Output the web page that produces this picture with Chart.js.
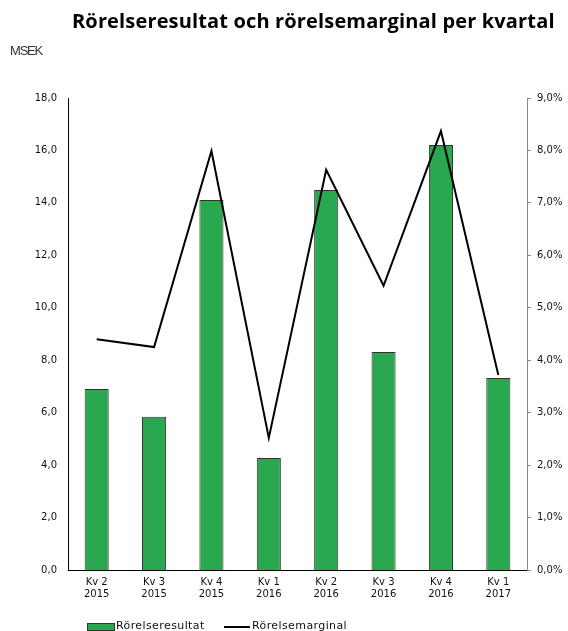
<!DOCTYPE html>
<html lang="sv">
<head>
<meta charset="UTF-8">
<title>Rörelseresultat och rörelsemarginal per kvartal</title>
<script src="https://cdn.jsdelivr.net/npm/chart.js"></script>
<style>
  body { margin: 0; background: #fff; }
  .ram { position: relative; width: 568px; height: 631px; }
  .rubrik { position: absolute; left: 72px; top: 7px; font: bold 20px "Open Sans", sans-serif; letter-spacing: .15px; color: #000; white-space: nowrap; }
  .enhet { position: absolute; left: 10px; top: 43px; font: 13px "Liberation Sans", sans-serif; letter-spacing: -1.2px; color: #333; }
  .forklaring { position: absolute; top: 619px; left: 0; font: 11px "DejaVu Sans", sans-serif; letter-spacing: .4px; color: #111; }
  .forklaring span { position: absolute; white-space: nowrap; }
  .ruta { left: 87px; top: 4px; width: 26px; height: 6px; background: #2aa84f; border: 1px solid #333; }
  .streck { left: 224px; top: 7px; width: 26px; height: 2px; background: #000; }
  canvas { position: absolute; left: 0; top: 0; }
</style>
</head>
<body>
<div class="ram">
  <canvas id="diagram" width="568" height="631"></canvas>
  <div class="rubrik">Rörelseresultat och rörelsemarginal per kvartal</div>
  <div class="enhet">MSEK</div>
  <div class="forklaring">
    <span class="ruta"></span><span style="left:116px;top:0">Rörelseresultat</span>
    <span class="streck"></span><span style="left:252px;top:0">Rörelsemarginal</span>
  </div>
</div>

<script>
  // kvartal
  const kvartal = [
    ['Kv 2', '2015'], ['Kv 3', '2015'], ['Kv 4', '2015'], ['Kv 1', '2016'],
    ['Kv 2', '2016'], ['Kv 3', '2016'], ['Kv 4', '2016'], ['Kv 1', '2017']
  ];
  // MSEK
  const rorelseresultat = [6.9, 5.84, 14.11, 4.27, 14.49, 8.31, 16.21, 7.32];
  // procent
  const rorelsemarginal = [4.40, 4.25, 7.99, 2.52, 7.63, 5.42, 8.37, 3.72];

  const tickFont = { family: 'DejaVu Sans', size: 10 };
  const komma = (v, d) => v.toFixed(d).replace('.', ',');

  new Chart(document.getElementById('diagram'), {
    data: {
      labels: kvartal,
      datasets: [
        {
          type: 'line',
          label: 'Rörelsemarginal',
          data: rorelsemarginal,
          yAxisID: 'y1',
          borderColor: '#000',
          borderWidth: 2,
          pointRadius: 0,
          tension: 0,
          order: 0
        },
        {
          type: 'bar',
          label: 'Rörelseresultat',
          data: rorelseresultat,
          yAxisID: 'y',
          backgroundColor: '#2aa84f',
          borderColor: '#333',
          borderWidth: 1,
          barPercentage: 0.42,
          categoryPercentage: 1,
          order: 1
        }
      ]
    },
    options: {
      responsive: false,
      animation: false,
      layout: { padding: { top: 98, left: 0, right: 0, bottom: 0 } },
      plugins: { legend: { display: false }, tooltip: { enabled: false } },
      scales: {
        x: {
          grid: { display: false, drawTicks: false },
          border: { color: '#000', width: 1 },
          ticks: { font: tickFont, color: '#111', padding: 6, maxRotation: 0 },
          afterFit: s => { s.height = 61; }
        },
        y: {
          position: 'left',
          min: 0, max: 18,
          grid: { display: false, drawTicks: false },
          border: { color: '#000', width: 1 },
          ticks: { stepSize: 2, font: tickFont, color: '#111', padding: 11, callback: v => komma(v, 1) },
          afterFit: s => { s.width = 68; }
        },
        y1: {
          position: 'right',
          min: 0, max: 9,
          grid: { drawOnChartArea: false, tickLength: 4, color: '#888' },
          border: { color: '#888', width: 1 },
          ticks: { stepSize: 1, font: tickFont, color: '#111', padding: 6, callback: v => komma(v, 1) + '%' },
          afterFit: s => { s.width = 41; }
        }
      }
    }
  });
</script>
</body>
</html>
